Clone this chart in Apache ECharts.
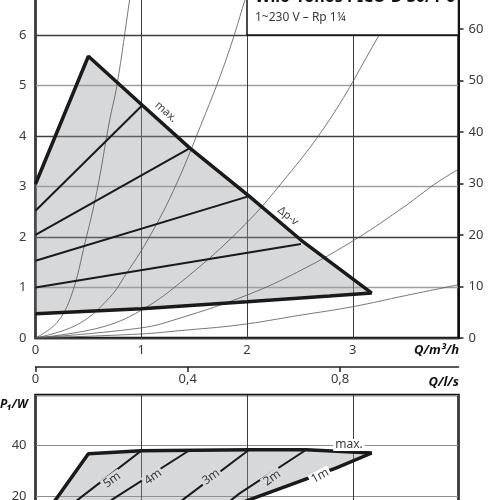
<!DOCTYPE html>
<html>
<head>
<meta charset="utf-8">
<script src="https://cdn.jsdelivr.net/npm/echarts@6/dist/echarts.min.js"></script>
<style>html,body{margin:0;padding:0;background:#fff;overflow:hidden;width:500px;height:500px}
#main{position:absolute;left:0;top:-16px;width:500px;height:580px}</style>
</head>
<body>
<div id="main"></div>
<script>
// Wilo-Yonos PICO-D 30/1-6 : Förderhöhe H (m) und Leistung P1 (W) über Q (m³/h)
// das Bild ist oben und unten beschnitten, daher ist der Container größer und verschoben

// oberes Diagramm, Kennfeld H/Q
var maxCurve = [[0,3.05],[0.5,5.58],[1.01,4.61],[1.46,3.76],[2.02,2.81],[2.51,1.94],[3.18,0.89]];
var minCurve = [[0,0.48],[1,0.58],[2,0.72],[2.78,0.83],[3.18,0.89]];
var dpv1 = [[0,2.52],[1.01,4.61]];
var dpv2 = [[0,2.04],[1.46,3.76]];
var dpv3 = [[0,1.53],[2.02,2.81]];
var dpv4 = [[0,1.0],[2.51,1.86]];
// Anlagenkennlinien
var sysA = [[0,0],[0.2,0.3],[0.34,0.85],[0.47,1.9],[0.58,2.9],[0.7,4.3],[0.77,5.0],[0.89,6.7],[0.93,7.3]];
var sysB = [[0,0],[0.4,0.27],[0.7,0.8],[0.86,1.28],[1.06,1.94],[1.3,2.9],[1.58,4.3],[1.8,5.5],[1.98,6.69],[2.05,7.2]];
var sysC = [[0,0],[0.6,0.2],[1.0,0.55],[1.43,1.2],[1.93,2.14],[2.3,3.0],[2.78,4.32],[3.25,6.0],[3.5,6.9]];
var sysD = [[0,0],[1.0,0.2],[1.36,0.39],[2.0,0.85],[2.5,1.33],[3.03,1.96],[3.5,2.62],[3.77,3.04],[3.99,3.33]];
var sysE = [[0,0],[1.0,0.08],[1.36,0.145],[1.93,0.26],[2.5,0.45],[3.0,0.62],[3.5,0.84],[3.99,1.05]];

// unteres Diagramm, Leistung P1
var pMax = [[0.03,9],[0.5,36.7],[1.0,37.9],[2.02,38.3],[2.56,38.3],[3.18,37.0]];
var pMin = [[1.5,10],[2.02,18.4],[2.84,31.0],[3.18,37.0]];
var p5m = [[1.0,37.9],[0.42,19.1],[0.2,12]];
var p4m = [[1.46,38.2],[0.72,18.4],[0.55,12]];
var p3m = [[2.02,38.3],[1.41,19.0],[1.23,13]];
var p2m = [[2.56,38.3],[1.93,21],[1.78,16]];

// Achsen
var qMax = 4;          // m³/h
var hMax = 7;          // m
var lsTicks = ['0','0,4','0,8'];
var pTicks = [0,20,40,60];

var OFF = 16;          // Verschiebung des Containers nach oben
var chart = echarts.init(document.getElementById('main'));
var txt = '#3a3a3a';
var fontFam = 'Noto Sans';
var fillCol = 'rgba(150,153,156,0.38)';

function polyItem(pts){
	return function(params, api){
		return {type:'polygon', shape:{points: pts.map(function(p){return api.coord(p);})},
			style:{fill: fillCol}, silent:true};
	};
}
function ln(data, w, xi, col){
	return {type:'line', data:data, xAxisIndex:xi, yAxisIndex:xi, symbol:'none', silent:true,
		lineStyle:{color: col||'#1a1a1a', width:w}, z: w>1.5 ? 5 : 3};
}
function thin(data){
	var s = ln(data, 0.8, 0, '#555');
	s.smooth = 0.4;
	return s;
}
function label(t, x, y, rot, bg, size){
	return {type:'text', x:x, y:y+OFF, rotation:rot||0, z:110,
		style:{text:t, x:0, y:0, align:'center', verticalAlign:'middle', fill:txt,
			font:(size||12)+'px "'+fontFam+'"', backgroundColor:bg||null, padding:bg?[0,2]:0}};
}
function title(t, x, y, font, align){
	return {type:'text', z:101, x:x, y:y+OFF,
		style:{text:t, fill:'#111', font:font+' "'+fontFam+'"', align:align||'left', verticalAlign:'middle'}};
}

var topPoly = maxCurve.concat(minCurve.slice().reverse());
var botPoly = pMax.concat(pMin.slice().reverse());

var option = {
	animation:false,
	textStyle:{fontFamily:fontFam},
	grid:[
		{left:35.5, right:41.5, top:0.5, height:353.5, show:true, borderColor:'#111', borderWidth:2.5},
		{left:35.5, right:41.5, top:366+OFF, height:1},
		{left:35.5, right:41.5, top:395+OFF, height:151.3, show:true, borderColor:'#111', borderWidth:2.5}
	],
	xAxis:[
		{gridIndex:0, type:'value', min:0, max:qMax, interval:1,
			axisLine:{show:false}, axisTick:{show:false},
			axisLabel:{color:txt, fontSize:13, margin:6, showMaxLabel:false},
			splitLine:{lineStyle:{color:'#3c3c3c', width:1}}},
		{gridIndex:1, type:'value', min:0, max:qMax/3.6, interval:0.4,
			axisLine:{show:true, lineStyle:{color:'#222', width:1.5}},
			axisTick:{show:true, length:5, lineStyle:{color:'#222', width:1.5}},
			axisLabel:{color:txt, fontSize:13, margin:6, showMaxLabel:false,
				formatter:function(v){ var i = Math.round(v/0.4); return lsTicks[i] || ''; }},
			splitLine:{show:false}},
		{gridIndex:2, type:'value', min:0, max:qMax, interval:1,
			axisLine:{show:false}, axisTick:{show:false}, axisLabel:{show:false},
			splitLine:{lineStyle:{color:'#3c3c3c', width:1}}}
	],
	yAxis:[
		{gridIndex:0, type:'value', min:0, max:hMax, interval:1,
			axisLine:{show:false}, axisTick:{show:false},
			axisLabel:{color:txt, fontSize:13, margin:9, showMaxLabel:false},
			splitLine:{lineStyle:{color:['#3c3c3c','#a0a0a0'], width:1.3}}},
		{gridIndex:1, type:'value', show:false},
		{gridIndex:2, type:'value', min:0, max:60, interval:20,
			axisLine:{show:false}, axisTick:{show:false},
			axisLabel:{color:txt, fontSize:13, margin:9, showMaxLabel:false,
				formatter:function(v){ return pTicks.indexOf(v) >= 0 ? String(v) : ''; }},
			splitLine:{lineStyle:{color:'#8c8c8c', width:1}}},
		{gridIndex:0, type:'value', position:'right', min:0, max:hMax*9.80665, interval:10,
			axisLine:{show:true, lineStyle:{color:'#111', width:2}},
			axisTick:{show:true, length:5, lineStyle:{color:'#222', width:1.5}},
			axisLabel:{color:txt, fontSize:13, margin:10, showMaxLabel:false},
			splitLine:{show:false}}
	],
	series:[
		{type:'custom', xAxisIndex:0, yAxisIndex:0, data:[[0,0]], renderItem:polyItem(topPoly), z:1},
		{type:'custom', xAxisIndex:2, yAxisIndex:2, data:[[0,0]], renderItem:polyItem(botPoly), z:1},
		thin(sysA), thin(sysB), thin(sysC), thin(sysD), thin(sysE),
		ln(dpv1,2,0), ln(dpv2,2,0), ln(dpv3,2,0), ln(dpv4,2,0),
		ln(maxCurve,3.5,0), ln(minCurve,3.5,0),
		ln(p5m,2,2), ln(p4m,2,2), ln(p3m,2,2), ln(p2m,2,2),
		ln(pMax,3.5,2), ln(pMin,3.5,2)
	],
	graphic:[
		{type:'rect', z:100, shape:{x:247, y:0, width:211.5, height:35+OFF},
			style:{fill:'#fff', stroke:'#111', lineWidth:1.5}},
		title('Wilo-Yonos PICO-D 30/1-6', 255, -3, 'bold 16px'),
		{type:'text', z:101, x:255, y:18+OFF,
			style:{text:'1~230 V – Rp 1¼', fill:txt, font:'12px "'+fontFam+'"', verticalAlign:'middle'}},
		title('H/m', 2, -4, 'italic bold 13px'),
		title('Q/m³/h', 459, 350, 'italic bold 13px', 'right'),
		title('Q/l/s', 459, 382, 'italic bold 13px', 'right'),
		title('P₁/W', 0, 405, 'italic bold 12px'),
		label('max.', 166, 112, -0.73, null, 11),
		label('Δp-v', 288, 216, -0.68, null, 11),
		label('5m', 112, 480, 0.62, '#d9dadb'),
		label('4m', 153, 477, 0.62, '#d9dadb'),
		label('3m', 211, 477, 0.62, '#d9dadb'),
		label('2m', 272, 478, 0.62, '#d9dadb'),
		label('1m', 320, 476, 0.5, '#fff'),
		label('max.', 349, 445, 0, '#fff')
	]
};
chart.setOption(option);
</script>
</body>
</html>
